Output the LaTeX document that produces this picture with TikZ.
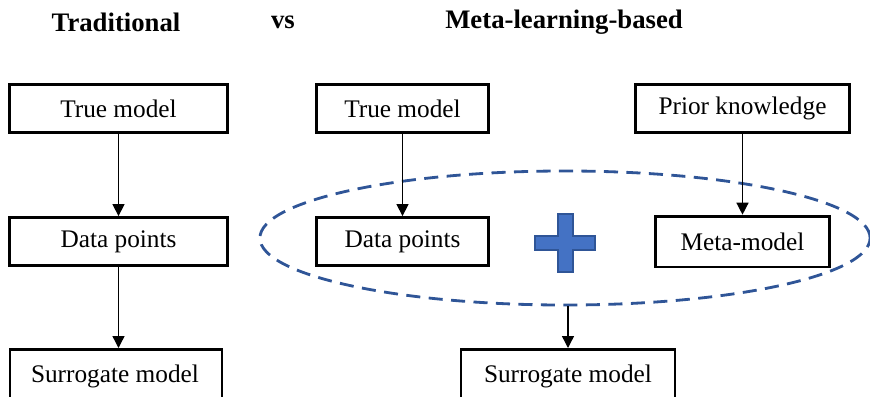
\documentclass[tikz,border=0pt]{standalone}
\usepackage{fontspec}
\setmainfont{Liberation Serif}
\usetikzlibrary{arrows.meta, shapes.geometric}

\definecolor{plusblue}{HTML}{4472C4}
\definecolor{darkblue}{HTML}{2F5597}

\begin{document}
\begin{tikzpicture}[
	x=0.025cm, y=-0.025cm,
	box/.style={
		rectangle,
		draw=black,
		line width=2pt,
		minimum height=1.2cm,
		inner sep=0pt,
		font=\fontsize{18}{20}\selectfont
	},
	title/.style={font=\fontsize{19}{21}\selectfont\bfseries},
	arrow/.style={-{Triangle[length=8.5pt,width=8.5pt]}, line width=1pt},
	group/.style={draw=darkblue, line width=2pt, dash pattern=on 10pt off 6pt}
]

\useasboundingbox (0,0) rectangle (870,396);

% Titles
\node[title] (titleL) at (116, 22) {Traditional};
\node[title] (titleVs) at (283, 22) {vs};
\node[title] (titleR) at (564, 22) {Meta-learning-based};

% Traditional
\node[box, minimum width=5.43cm] (trueL) at (118.5, 108.5) {True model};
\node[box, minimum width=5.43cm] (dataL) at (118.5, 241.5) {Data points};
\node[box, minimum width=5.3cm, minimum height=1.4cm, anchor=north] (surrL) at (116, 348) {};
\node[font=\fontsize{18}{20}\selectfont] (surrLtxt) at (115, 376) {Surrogate model};

% Meta-learning-based
\node[box, minimum width=4.28cm] (trueR) at (402.5, 108.5) {True model};
\node[box, minimum width=5.33cm] (prior) at (742.5, 108.5) {Prior knowledge};
\node[box, minimum width=4.28cm] (dataR) at (402.5, 241.5) {Data points};
\node[box, minimum width=4.33cm, minimum height=1.27cm] (meta) at (742.5, 241.5) {Meta-model};
\node[box, minimum width=5.35cm, minimum height=1.4cm, anchor=north] (surrR) at (568, 348) {};
\node[font=\fontsize{18}{20}\selectfont] (surrRtxt) at (568, 376) {Surrogate model};

% Ellipse around data points and meta-model
\node[group, ellipse, minimum width=15.25cm, minimum height=3.35cm, inner sep=0pt] (grp) at (565, 238) {};

% Plus sign
\filldraw[fill=plusblue, draw=darkblue, line width=1.2pt]
	(558,214) -- (573,214) -- (573,236) -- (595,236) -- (595,250) -- (573,250)
	-- (573,272) -- (558,272) -- (558,250) -- (535,250) -- (535,236) -- (558,236) -- cycle;

% Arrows
\draw[arrow] (trueL) -- (dataL);
\draw[arrow] (dataL.south) -- (dataL.south |- surrL.north);
\draw[arrow] (trueR) -- (dataR);
\draw[arrow] (prior.south) -- (meta.north);
\draw[arrow] (grp.south -| surrR.north) -- (surrR.north);

\end{tikzpicture}
\end{document}
